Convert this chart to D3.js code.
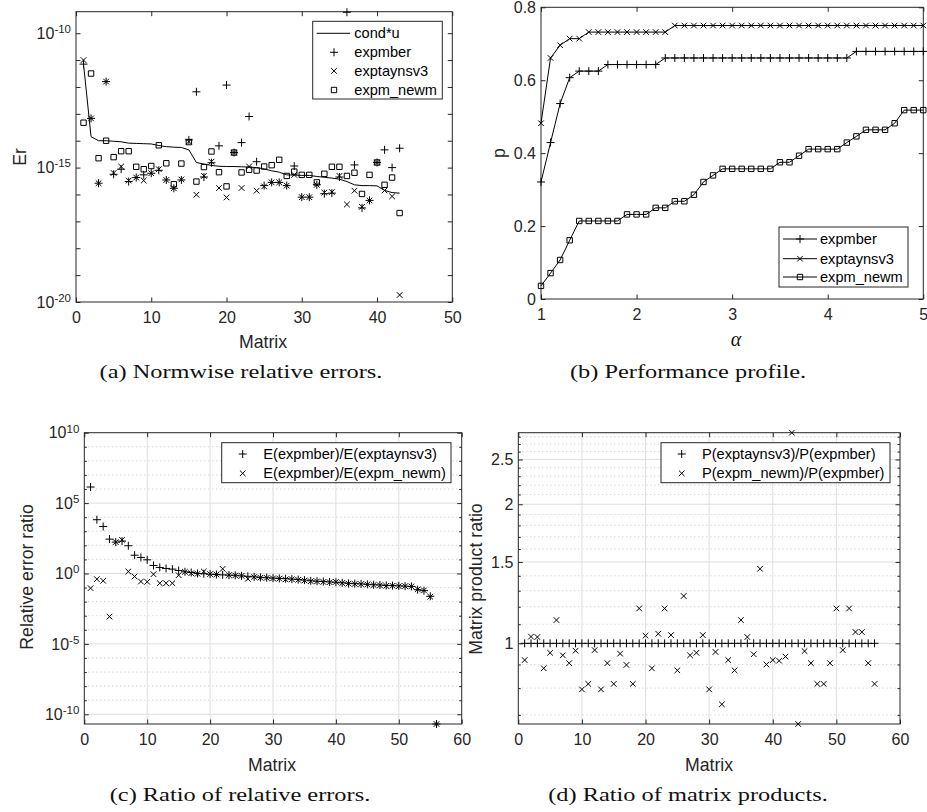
<!DOCTYPE html>
<html>
<head>
<meta charset="utf-8">
<script src="https://cdn.jsdelivr.net/npm/d3@7"></script>
<style>
  body { margin: 0; background: #fff; }
  svg { display: block; }
</style>
</head>
<body>
<div id="fig"></div>
<script>
// ---- data (a): log10 of normwise relative errors, matrices 1..43
var matrixA = d3.range(1, 44);
var condLogA = [-11.15,-13.85,-14.0,-14.0,-14.02,-14.04,-14.09,-14.1,-14.11,-14.12,
  -14.18,-14.22,-14.24,-14.25,-14.34,-14.81,-14.87,-14.92,-14.95,-14.96,
  -14.96,-14.97,-14.98,-15.0,-15.05,-15.12,-15.17,-15.27,-15.28,-15.29,
  -15.29,-15.33,-15.36,-15.39,-15.43,-15.52,-15.64,-15.67,-15.67,-15.68,
  -15.85,-15.93,-15.95];
var expmberLogA = [-11.15,-13.17,-15.58,-11.8,-15.25,-15.06,-15.52,-15.37,-15.27,-15.21,
  -15.1,-15.46,-15.77,-15.46,-13.97,-12.18,-15.35,-14.82,-14.19,-11.93,
  -14.44,-14.07,-13.1,-14.78,-15.67,-15.55,-15.55,-15.67,-14.94,-16.1,
  -16.1,-15.64,-15.97,-15.95,-15.35,-9.22,-14.9,-16.5,-16.22,-14.81,
  -14.34,-15.0,-14.28];
var exptayLogA = [-11.0,-13.17,-15.58,-11.8,-15.2,-14.96,-15.48,-15.37,-15.48,-15.21,
  -15.06,-15.46,-15.77,-15.44,-14.03,-16.01,-15.31,-14.78,-15.76,-16.11,
  -14.44,-15.76,-14.96,-15.86,-15.7,-15.55,-15.55,-15.67,-15.27,-16.1,
  -16.1,-15.64,-15.93,-15.91,-15.31,-16.37,-15.86,-16.46,-16.22,-14.81,
  -15.85,-16.07,-19.74];
var newmLogA = [-13.33,-11.5,-14.65,-14.0,-14.61,-14.39,-14.39,-14.97,-15.06,-14.94,
  -14.17,-14.84,-15.62,-14.85,-14.05,-15.52,-14.98,-14.4,-15.17,-15.7,
  -14.44,-15.18,-15.08,-15.11,-14.96,-14.91,-14.71,-15.31,-15.15,-15.27,
  -15.27,-15.55,-15.23,-14.97,-14.97,-15.31,-15.19,-15.98,-15.27,-14.81,
  -15.64,-15.37,-16.69];

// ---- data (b): performance profile
var alphaB = [1.0,1.1,1.2,1.3,1.4,1.5,1.6,1.7,1.8,1.9,2.0,2.1,2.2,2.3,2.4,2.5,2.6,2.7,2.8,2.9,
  3.0,3.1,3.2,3.3,3.4,3.5,3.6,3.7,3.8,3.9,4.0,4.1,4.2,4.3,4.4,4.5,4.6,4.7,4.8,4.9,5.0];
var expmberB = [0.321,0.429,0.536,0.607,0.625,0.625,0.625,0.643,0.643,0.643,0.643,0.643,0.643,
  0.661,0.661,0.661,0.661,0.661,0.661,0.661,0.661,0.661,0.661,0.661,0.661,0.661,0.661,0.661,
  0.661,0.661,0.661,0.661,0.661,0.679,0.679,0.679,0.679,0.679,0.679,0.679,0.679];
var exptayB = [0.482,0.661,0.696,0.714,0.714,0.732,0.732,0.732,0.732,0.732,0.732,0.732,0.732,
  0.732,0.75,0.75,0.75,0.75,0.75,0.75,0.75,0.75,0.75,0.75,0.75,0.75,0.75,0.75,0.75,0.75,
  0.75,0.75,0.75,0.75,0.75,0.75,0.75,0.75,0.75,0.75,0.75];
var newmB = [0.036,0.071,0.107,0.161,0.214,0.214,0.214,0.214,0.214,0.232,0.232,0.232,0.25,
  0.25,0.268,0.268,0.286,0.321,0.339,0.357,0.357,0.357,0.357,0.357,0.357,0.375,0.375,0.393,
  0.411,0.411,0.411,0.411,0.429,0.446,0.464,0.464,0.464,0.482,0.518,0.518,0.518];

// ---- data (c): log10 of relative error ratios, matrices 1..56
var matrixCD = d3.range(1, 57);
var ratioTayLogC = [6.14,3.82,3.34,2.44,2.23,2.3,1.97,1.3,1.14,0.97,
  0.57,0.43,0.36,0.31,0.21,0.12,0.07,0.0,-0.02,-0.05,
  -0.07,-0.1,-0.12,-0.13,-0.17,-0.2,-0.24,-0.28,-0.3,-0.33,
  -0.35,-0.37,-0.4,-0.43,-0.47,-0.52,-0.55,-0.57,-0.6,-0.62,
  -0.66,-0.7,-0.72,-0.74,-0.77,-0.8,-0.82,-0.85,-0.86,-0.88,
  -0.9,-0.92,-1.15,-1.22,-1.62,-10.69];
var ratioNewmLogC = [-1.04,-0.4,-0.52,-3.06,2.23,2.39,0.14,-0.21,-0.57,-0.59,
  -0.05,-0.69,-0.69,-0.69,-0.12,0.12,0.02,-0.02,0.14,-0.04,
  -0.07,0.33,-0.12,-0.14,-0.17,-0.38,-0.25,-0.3,-0.31,-0.35,
  -0.36,-0.42,-0.41,-0.45,-0.5,-0.55,-0.56,-0.6,-0.62,-0.6,
  -0.68,-0.72,-0.74,-0.76,-0.78,-0.82,-0.84,-0.88,-0.87,-0.9,
  -0.9,-0.92,-1.12,-1.2,-1.65,-10.69];

// ---- data (d): matrix product ratios
var prodTayD = [1,1,1,1,1,1,1,1,1,1,1,1,1,1,1,1,1,1,1,1,1,1,1,1,1,1,1,1,
  1,1,1,1,1,1,1,1,1,1,1,1,1,1,1,1,1,1,1,1,1,1,1,1,1,1,1,1];
var prodNewmD = [0.92,1.034,1.032,0.883,0.954,1.123,0.942,0.906,0.964,0.795,
  0.817,0.967,0.795,0.906,0.817,0.95,0.898,0.817,1.19,1.039,
  0.883,1.049,1.19,1.042,0.874,1.266,0.942,0.954,1.042,0.795,
  0.958,0.738,0.92,0.874,1.123,1.032,0.947,1.45,0.9,0.92,
  0.917,0.936,2.857,0.669,0.962,0.906,0.817,0.817,0.906,1.19,
  0.967,1.19,1.058,1.058,0.906,0.817];

var legendA = ["cond*u", "expmber", "exptaynsv3", "expm_newm"];
var legendB = ["expmber", "exptaynsv3", "expm_newm"];
var legendC = ["E(expmber)/E(exptaynsv3)", "E(expmber)/E(expm_newm)"];
var legendD = ["P(exptaynsv3)/P(expmber)", "P(expm_newm)/P(expmber)"];

// ---- drawing
var ink = "#262626";
var sans = '"Liberation Sans", Arial, Helvetica, sans-serif';
var tickFs = 16, labelFs = 17.7, legendFs = 14.6;
var tl = 4.5;

var svg = d3.select("#fig").append("svg").attr("width", 927).attr("height", 812);

function pow10(v) { return Math.pow(10, v); }

function markPath(type, pts) {
  var p = d3.path();
  pts.forEach(function (d) {
    var x = d[0], y = d[1];
    if (type === "plus") {
      p.moveTo(x - 4, y); p.lineTo(x + 4, y);
      p.moveTo(x, y - 4); p.lineTo(x, y + 4);
    } else if (type === "cross") {
      p.moveTo(x - 2.8, y - 2.8); p.lineTo(x + 2.8, y + 2.8);
      p.moveTo(x - 2.8, y + 2.8); p.lineTo(x + 2.8, y - 2.8);
    } else {
      p.rect(x - 2.7, y - 2.7, 5.4, 5.4);
    }
  });
  return p.toString();
}

function drawMarks(g, type, pts) {
  g.append("path").attr("d", markPath(type, pts))
    .attr("fill", "none").attr("stroke", "#000").attr("stroke-width", 1);
}

function styleAxis(sel) {
  sel.select(".domain").remove();
  sel.selectAll(".tick line").attr("stroke", ink).attr("stroke-width", 1);
  sel.selectAll(".tick text").attr("fill", ink)
    .style("font-family", sans).style("font-size", tickFs + "px");
}

function supFormat(sel) {
  sel.selectAll(".tick text").each(function (d) {
    var t = d3.select(this);
    var e = Math.round(Math.log10(d));
    t.text(null);
    t.append("tspan").text("10");
    t.append("tspan").attr("dy", "-0.5em").style("font-size", "11.5px").text(e);
  });
}

function grid(g, P, x, y, xv, yv, yMinor) {
  g.selectAll(null).data(yMinor).enter().append("line")
    .attr("x1", P.l).attr("x2", P.r).attr("y1", function (d) { return y(d); }).attr("y2", function (d) { return y(d); })
    .attr("stroke", "#c4c4c4").attr("stroke-dasharray", "1,3");
  g.selectAll(null).data(xv).enter().append("line")
    .attr("y1", P.t).attr("y2", P.b).attr("x1", function (d) { return x(d); }).attr("x2", function (d) { return x(d); })
    .attr("stroke", "#dedede");
  g.selectAll(null).data(yv).enter().append("line")
    .attr("x1", P.l).attr("x2", P.r).attr("y1", function (d) { return y(d); }).attr("y2", function (d) { return y(d); })
    .attr("stroke", "#dedede");
}

function frame(g, P, x, y, o) {
  g.append("g").attr("transform", "translate(0," + P.b + ")")
    .call(d3.axisBottom(x).tickValues(o.xt).tickSizeInner(-tl).tickSizeOuter(0).tickPadding(10).tickFormat(o.xFmt))
    .call(styleAxis);
  g.append("g").attr("transform", "translate(0," + P.t + ")")
    .call(d3.axisTop(x).tickValues(o.xt).tickSizeInner(-tl).tickSizeOuter(0).tickFormat(""))
    .call(styleAxis);
  var yl = g.append("g").attr("transform", "translate(" + P.l + ",0)")
    .call(d3.axisLeft(y).tickValues(o.yt).tickSizeInner(-tl).tickSizeOuter(0).tickPadding(5).tickFormat(o.yFmt || ""))
    .call(styleAxis);
  if (o.sup) yl.call(supFormat);
  g.append("g").attr("transform", "translate(" + P.r + ",0)")
    .call(d3.axisRight(y).tickValues(o.yt).tickSizeInner(-tl).tickSizeOuter(0).tickFormat(""))
    .call(styleAxis);
  if (o.yMinor) {
    g.append("g").attr("transform", "translate(" + P.l + ",0)")
      .call(d3.axisLeft(y).tickValues(o.yMinor).tickSizeInner(-o.minorLen).tickSizeOuter(0).tickFormat(""))
      .call(styleAxis);
    g.append("g").attr("transform", "translate(" + P.r + ",0)")
      .call(d3.axisRight(y).tickValues(o.yMinor).tickSizeInner(-o.minorLen).tickSizeOuter(0).tickFormat(""))
      .call(styleAxis);
  }
  g.append("rect").attr("x", P.l).attr("y", P.t).attr("width", P.r - P.l).attr("height", P.b - P.t)
    .attr("fill", "none").attr("stroke", ink).attr("stroke-width", 1);
}

function label(txt, x, y, rot, extra) {
  var t = svg.append("text").attr("text-anchor", "middle")
    .attr("transform", "translate(" + x + "," + y + ")" + (rot ? " rotate(-90)" : ""))
    .attr("fill", ink).style("font-family", sans).style("font-size", labelFs + "px").text(txt);
  return t;
}

function legendBox(L) {
  svg.append("rect").attr("x", L.x0).attr("y", L.y0).attr("width", L.x1 - L.x0).attr("height", L.y1 - L.y0)
    .attr("fill", "#fff").attr("stroke", ink).attr("stroke-width", 1);
}

function legendText(txt, x, y) {
  svg.append("text").attr("x", x).attr("y", y).attr("dy", "0.35em").attr("fill", "#000")
    .style("font-family", sans).style("font-size", legendFs + "px").text(txt);
}

function caption(txt, cx, y) {
  var t = svg.append("text").attr("x", cx).attr("y", y).attr("text-anchor", "middle")
    .attr("fill", "#111").style("font-family", '"Liberation Serif", "Times New Roman", serif')
    .style("font-size", "19.5px").text(txt);
  var w = t.node().getComputedTextLength();
  t.attr("textLength", w * 1.25).attr("lengthAdjust", "spacingAndGlyphs");
}

// ================= (a) =================
var A = { l: 76, r: 452.3, t: 11.7, b: 302 };
var xA = d3.scaleLinear().domain([0, 50]).range([A.l, A.r]);
var yA = d3.scaleLog().domain([1e-20, pow10(-9.2)]).range([A.b, A.t]);
var gA = svg.append("g");
frame(gA, A, xA, yA, {
  xt: [0, 10, 20, 30, 40, 50], xFmt: d3.format("d"),
  yt: [1e-20, 1e-15, 1e-10], yFmt: String, sup: true,
  yMinor: [1e-19, 1e-18, 1e-17, 1e-16, 1e-14, 1e-13, 1e-12, 1e-11], minorLen: tl
});
gA.append("path").datum(matrixA)
  .attr("d", d3.line().x(function (d) { return xA(d); }).y(function (d, i) { return yA(pow10(condLogA[i])); }))
  .attr("fill", "none").attr("stroke", "#000").attr("stroke-width", 1);
drawMarks(gA, "plus", matrixA.map(function (m, i) { return [xA(m), yA(pow10(expmberLogA[i]))]; }));
drawMarks(gA, "cross", matrixA.map(function (m, i) { return [xA(m), yA(pow10(exptayLogA[i]))]; }));
drawMarks(gA, "square", matrixA.map(function (m, i) { return [xA(m), yA(pow10(newmLogA[i]))]; }));

var LA = { x0: 312.7, x1: 442.3, y0: 21.3, y1: 99 };
legendBox(LA);
var rowsA = [33.3, 52.3, 70.9, 90];
svg.append("line").attr("x1", 316.7).attr("x2", 350).attr("y1", rowsA[0]).attr("y2", rowsA[0]).attr("stroke", "#000");
drawMarks(svg, "plus", [[334, rowsA[1]]]);
drawMarks(svg, "cross", [[334, rowsA[2]]]);
drawMarks(svg, "square", [[334, rowsA[3]]]);
legendA.forEach(function (s, i) { legendText(s, 354.3, rowsA[i]); });
label("Er", 25.5, 157, true);
label("Matrix", 263, 348, false);

// ================= (b) =================
var B = { l: 541, r: 923.3, t: 7.3, b: 299 };
var xB = d3.scaleLinear().domain([1, 5]).range([B.l, B.r]);
var yB = d3.scaleLinear().domain([0, 0.8]).range([B.b, B.t]);
var gB = svg.append("g");
frame(gB, B, xB, yB, {
  xt: [1, 2, 3, 4, 5], xFmt: d3.format("d"),
  yt: [0, 0.2, 0.4, 0.6, 0.8], yFmt: function (d) { return d === 0 ? "0" : d3.format(".1f")(d); }
});
var lineB = function (vals) {
  return d3.line().x(function (d) { return xB(d); }).y(function (d, i) { return yB(vals[i]); })(alphaB);
};
[[expmberB, "plus"], [exptayB, "cross"], [newmB, "square"]].forEach(function (s) {
  gB.append("path").attr("d", lineB(s[0])).attr("fill", "none").attr("stroke", "#000").attr("stroke-width", 1);
  drawMarks(gB, s[1], alphaB.map(function (a, i) { return [xB(a), yB(s[0][i])]; }));
});
var LB = { x0: 779, x1: 908, y0: 227, y1: 287 };
legendBox(LB);
var rowsB = [239, 258.7, 277];
["plus", "cross", "square"].forEach(function (t, i) {
  svg.append("line").attr("x1", 783).attr("x2", 817).attr("y1", rowsB[i]).attr("y2", rowsB[i]).attr("stroke", "#000");
  drawMarks(svg, t, [[800, rowsB[i]]]);
  legendText(legendB[i], 820, rowsB[i]);
});
label("p", 505, 153, true);
svg.append("text").attr("x", 736).attr("y", 346).attr("text-anchor", "middle").attr("fill", "#111")
  .style("font-family", '"Liberation Serif", serif').style("font-style", "italic").style("font-size", "20px").text("α");

// ================= (c) =================
var C = { l: 84.3, r: 461.7, t: 432.7, b: 724 };
var xC = d3.scaleLinear().domain([0, 60]).range([C.l, C.r]);
var yC = d3.scaleLog().domain([pow10(-10.69), 1e10]).range([C.b, C.t]);
var gC = svg.append("g");
var minorC = [1e9, 1e8, 1e7, 1e6, 1e4, 1e3, 1e2, 1e1, 1e-1, 1e-2, 1e-3, 1e-4, 1e-6, 1e-7, 1e-8, 1e-9];
grid(gC, C, xC, yC, [10, 20, 30, 40, 50], [1e5, 1, 1e-5, 1e-10], minorC);
frame(gC, C, xC, yC, {
  xt: [0, 10, 20, 30, 40, 50, 60], xFmt: d3.format("d"),
  yt: [1e-10, 1e-5, 1, 1e5, 1e10], yFmt: String, sup: true,
  yMinor: minorC, minorLen: 2.5
});
drawMarks(gC, "plus", matrixCD.map(function (m, i) { return [xC(m), yC(pow10(ratioTayLogC[i]))]; }));
drawMarks(gC, "cross", matrixCD.map(function (m, i) { return [xC(m), yC(pow10(ratioNewmLogC[i]))]; }));
var LC = { x0: 221.7, x1: 451, y0: 442.7, y1: 482.7 };
legendBox(LC);
drawMarks(svg, "plus", [[242.7, 454]]);
drawMarks(svg, "cross", [[242.7, 473.3]]);
legendText(legendC[0], 263.3, 454);
legendText(legendC[1], 263.3, 473.3);
label("Relative error ratio", 33, 577, true);
label("Matrix", 272, 771, false);

// ================= (d) =================
var D = { l: 518.3, r: 900, t: 432.7, b: 724 };
var xD = d3.scaleLinear().domain([0, 60]).range([D.l, D.r]);
var yD = d3.scaleLog().domain([0.669, 2.857]).range([D.b, D.t]);
var gD = svg.append("g");
var minorD = [0.7, 0.8, 0.9, 1.1, 1.2, 1.3, 1.4, 1.6, 1.7, 1.8, 1.9, 2.1, 2.2, 2.3, 2.4, 2.6, 2.7, 2.8];
grid(gD, D, xD, yD, [10, 20, 30, 40, 50], [1, 1.5, 2, 2.5], minorD);
frame(gD, D, xD, yD, {
  xt: [0, 10, 20, 30, 40, 50, 60], xFmt: d3.format("d"),
  yt: [1, 1.5, 2, 2.5], yFmt: String,
  yMinor: minorD, minorLen: 2.5
});
drawMarks(gD, "plus", matrixCD.map(function (m, i) { return [xD(m), yD(prodTayD[i])]; }));
drawMarks(gD, "cross", matrixCD.map(function (m, i) { return [xD(m), yD(prodNewmD[i])]; }));
var LD = { x0: 661, x1: 890, y0: 442.7, y1: 482.7 };
legendBox(LD);
drawMarks(svg, "plus", [[681.7, 454]]);
drawMarks(svg, "cross", [[681.7, 473.3]]);
legendText(legendD[0], 702, 454);
legendText(legendD[1], 702, 473.3);
label("Matrix product ratio", 482, 579, true);
label("Matrix", 709, 771, false);

// ================= captions =================
caption("(a) Normwise relative errors.", 241, 378);
caption("(b) Performance profile.", 688, 378);
caption("(c) Ratio of relative errors.", 240, 801);
caption("(d) Ratio of matrix products.", 688, 801);
</script>
</body>
</html>
